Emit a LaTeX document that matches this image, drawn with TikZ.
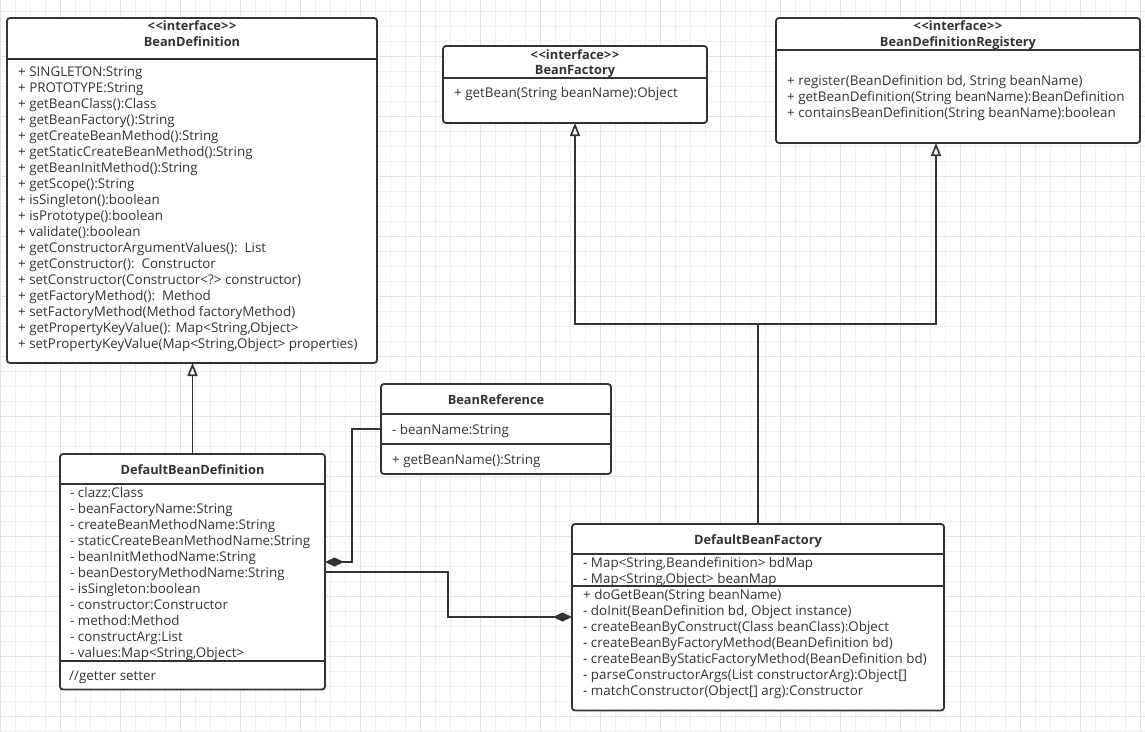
\documentclass[tikz,border=0pt]{standalone}
\usepackage{fontspec}
\setmainfont{Open Sans}
\usetikzlibrary{arrows.meta}
\definecolor{ink}{HTML}{333333}
\definecolor{gridthin}{HTML}{F0F0F0}
\definecolor{gridthick}{HTML}{E2E2E2}
\newcommand{\stereo}{<\kern0.8pt<interface>\kern0.8pt>}
\tikzset{
  umlbox/.style={draw=ink, line width=1.8pt, rounded corners=3pt, fill=white, inner sep=0pt, outer sep=0pt, anchor=north west},
  divider/.style={draw=ink, line width=1.8pt},
  item/.style={anchor=base west, inner sep=0pt, font=\fontsize{13.4}{15}\selectfont, text=ink},
  title/.style={anchor=base, inner sep=0pt, font=\bfseries\fontsize{12.8}{15}\selectfont, text=ink},
  conn/.style={draw=ink, line width=1.8pt},
  inherit/.style={-{Triangle[open, length=13pt, width=10pt, line width=1.7pt]}},
  compose/.style={{Diamond[length=19pt, width=9pt]}-},
}
\begin{document}
\begin{tikzpicture}[x=1pt,y=-1pt]
\fill[white] (0,0) rectangle (1145,731);
\useasboundingbox (0,0) rectangle (1145,731);
% grid
\foreach \x in {0,15,...,1140} \draw[gridthin, line width=1pt] (\x,0) -- (\x,731);
\foreach \y in {11,26,...,731} \draw[gridthin, line width=1pt] (0,\y) -- (1145,\y);
\foreach \x in {0,60,...,1140} \draw[gridthick, line width=1pt] (\x,0) -- (\x,731);
\foreach \y in {56,116,...,731} \draw[gridthick, line width=1pt] (0,\y) -- (1145,\y);

% ---- BeanDefinition
\node[umlbox, minimum width=370pt, minimum height=345pt] (bd) at (7,18) {};
\draw[divider] (bd.west |- 0,59) -- (bd.east |- 0,59);
\node[title] (bdst) at (192,30.5) {\stereo};
\node[title] (bdt) at (192,46.5) {BeanDefinition};
\foreach \t [count=\i from 0] in {%
  + SINGLETON:String,
  + PROTOTYPE:String,
  + getBeanClass():Class,
  + getBeanFactory():String,
  + getCreateBeanMethod():String,
  + getStaticCreateBeanMethod():String,
  + getBeanInitMethod():String,
  + getScope():String,
  + isSingleton():boolean,
  + isPrototype():boolean,
  + validate():boolean,
  + getConstructorArgumentValues():\ \ List,
  + getConstructor():\ \ Constructor,
  + setConstructor(Constructor<?> constructor),
  + getFactoryMethod():\ \ Method,
  + setFactoryMethod(Method factoryMethod),
  + getPropertyKeyValue(): Map<String{,}Object>,
  + setPropertyKeyValue(Map<String{,}Object> properties)}
  \node[item] (bdi\i) at (18,76+16*\i) {\t};

% ---- BeanFactory
\node[umlbox, minimum width=264pt, minimum height=77pt] (bf) at (443,46) {};
\draw[divider] (bf.west |- 0,78) -- (bf.east |- 0,78);
\node[title] (bfst) at (575,59.3) {\stereo};
\node[title] (bft) at (575,74.3) {BeanFactory};
\node[item] (bfi0) at (454,97.3) {+ getBean(String beanName):Object};

% ---- BeanDefinitionRegistery
\node[umlbox, minimum width=364pt, minimum height=125pt] (reg) at (776,18) {};
\draw[divider] (reg.west |- 0,50) -- (reg.east |- 0,50);
\node[title] (regst) at (958,30.7) {\stereo};
\node[title] (regt) at (958,46.7) {BeanDefinitionRegistery};
\node[item] (regi0) at (787,85) {+ register(BeanDefinition bd, String beanName)};
\node[item] (regi1) at (787,101) {+ getBeanDefinition(String beanName):BeanDefinition};
\node[item] (regi2) at (787,117) {+ containsBeanDefinition(String beanName):boolean};

% ---- BeanReference
\node[umlbox, minimum width=230pt, minimum height=90pt] (ref) at (381,384) {};
\draw[divider] (ref.west |- 0,414) -- (ref.east |- 0,414);
\draw[divider] (ref.west |- 0,444) -- (ref.east |- 0,444);
\node[title] (reft) at (496,404) {BeanReference};
\node[item] (refi0) at (392,434) {- beanName:String};
\node[item] (refi1) at (392,464) {+ getBeanName():String};

% ---- DefaultBeanDefinition
\node[umlbox, minimum width=265pt, minimum height=235.5pt] (dbd) at (60,454) {};
\draw[divider] (dbd.west |- 0,484) -- (dbd.east |- 0,484);
\draw[divider] (dbd.west |- 0,661) -- (dbd.east |- 0,661);
\node[title] (dbdt) at (192.5,474) {DefaultBeanDefinition};
\foreach \t [count=\i from 0] in {%
  - clazz:Class,
  - beanFactoryName:String,
  - createBeanMethodName:String,
  - staticCreateBeanMethodName:String,
  - beanInitMethodName:String,
  - beanDestoryMethodName:String,
  - isSingleton:boolean,
  - constructor:Constructor,
  - method:Method,
  - constructArg:List,
  - values:Map<String{,}Object>}
  \node[item] (dbdi\i) at (70,497+16*\i) {\t};
\node[item] (dbdm0) at (69,680) {//getter setter};

% ---- DefaultBeanFactory
\node[umlbox, minimum width=372pt, minimum height=186.5pt] (dbf) at (572,524) {};
\draw[divider] (dbf.west |- 0,554) -- (dbf.east |- 0,554);
\draw[divider] (dbf.west |- 0,586) -- (dbf.east |- 0,586);
\node[title] (dbft) at (758,544) {DefaultBeanFactory};
\node[item] (dbfa0) at (583,567) {- Map<String,Beandefinition> bdMap};
\node[item] (dbfa1) at (583,583) {- Map<String,Object> beanMap};
\foreach \t [count=\i from 0] in {%
  + doGetBean(String beanName),
  - doInit(BeanDefinition bd{,} Object instance),
  - createBeanByConstruct(Class beanClass):Object,
  - createBeanByFactoryMethod(BeanDefinition bd),
  - createBeanByStaticFactoryMethod(BeanDefinition bd),
  - parseConstructorArgs(List constructorArg):Object[],
  - matchConstructor(Object[] arg):Constructor}
  \node[item] (dbfm\i) at (583,599+16*\i) {\t};

% ---- connectors
\coordinate (j1) at (758,324);
\coordinate (jr) at (936,324);
\coordinate (kr) at (352,429);
\coordinate (kf) at (448,572);
\draw[conn, inherit] (dbd.north) -- (dbd.north |- bd.south);
\draw[conn] (dbf.north) -- (j1);
\draw[conn, inherit] (j1) -| (bf.south);
\draw[conn, inherit] (j1) -| (reg.south -| jr);
\draw[conn, compose] (dbd.east |- 0,562) -| (kr) -- (ref.west);
\draw[conn, compose] (dbf.west |- 0,617) -| (kf) -- (dbd.east |- kf);
\end{tikzpicture}
\end{document}
